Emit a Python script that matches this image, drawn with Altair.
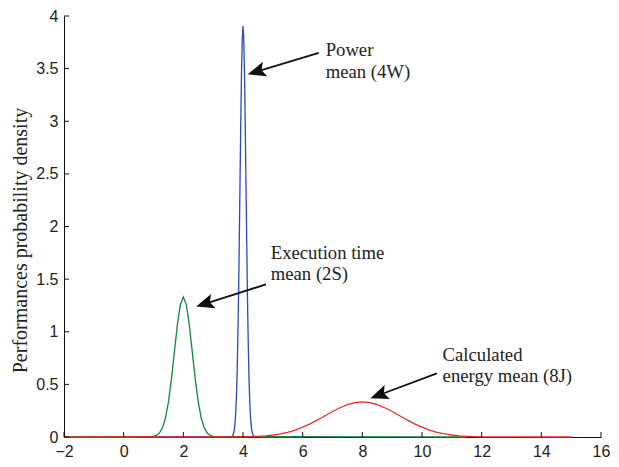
import math
import altair as alt
import pandas as pd

# ---- data ----
blue_x = [-2.0, 3.600, 3.625, 3.650, 3.675, 3.700, 3.725, 3.750, 3.775, 3.800, 3.825,
          3.850, 3.875, 3.900, 3.925, 3.950, 3.975, 4.000, 4.025, 4.050, 4.075, 4.100,
          4.125, 4.150, 4.175, 4.200, 4.225, 4.250, 4.275, 4.300, 4.325, 4.350, 4.375,
          4.400, 6.0]
blue_y = [0.0, 0.002, 0.005, 0.011, 0.025, 0.053, 0.105, 0.197, 0.347, 0.577, 0.903,
          1.330, 1.849, 2.420, 2.981, 3.460, 3.785, 3.905, 3.785, 3.460, 2.981, 2.420,
          1.849, 1.330, 0.903, 0.577, 0.347, 0.197, 0.105, 0.053, 0.025, 0.011, 0.005,
          0.002, 0.0]

green_x = [-2.0, 1.0, 1.1, 1.2, 1.3, 1.4, 1.5, 1.6, 1.7, 1.8, 1.9, 2.0,
           2.1, 2.2, 2.3, 2.4, 2.5, 2.6, 2.7, 2.8, 2.9, 3.0, 11.5]
green_y = [0.0, 0.005, 0.015, 0.038, 0.087, 0.180, 0.332, 0.547, 0.807, 1.065, 1.258, 1.330,
           1.258, 1.065, 0.807, 0.547, 0.332, 0.180, 0.087, 0.038, 0.015, 0.005, 0.0]

red_x = [-2.0, 4.0, 4.25, 4.5, 4.75, 5.0, 5.25, 5.5, 5.75, 6.0, 6.25, 6.5, 6.75, 7.0,
         7.25, 7.5, 7.75, 8.0, 8.25, 8.5, 8.75, 9.0, 9.25, 9.5, 9.75, 10.0, 10.25,
         10.5, 10.75, 11.0, 11.25, 11.5, 11.75, 12.0, 15.0]
red_y = [0.0, 0.002, 0.0037, 0.0066, 0.011, 0.019, 0.030, 0.045, 0.066, 0.093, 0.125,
         0.162, 0.202, 0.242, 0.278, 0.307, 0.326, 0.333, 0.326, 0.307, 0.278, 0.242,
         0.202, 0.162, 0.125, 0.093, 0.066, 0.045, 0.030, 0.019, 0.011, 0.0066, 0.0037,
         0.002, 0.0]

x_ticks = [-2, 0, 2, 4, 6, 8, 10, 12, 14, 16]
y_ticks = [0, 0.5, 1, 1.5, 2, 2.5, 3, 3.5, 4]

arrow_x1 = [6.54, 4.77, 10.50]
arrow_y1 = [3.650, 1.450, 0.604]
arrow_x2 = [4.16, 2.43, 8.27]
arrow_y2 = [3.446, 1.239, 0.368]

label_lines = ["Power", "mean (4W)", "Execution time", "mean (2S)",
               "Calculated", "energy mean (8J)"]
label_x = [6.77, 6.77, 4.93, 4.93, 10.69, 10.69]
label_y = [3.623, 3.415, 1.695, 1.491, 0.726, 0.519]

# ---- layout ----
W, H = 537, 421
XMIN, XMAX, YMIN, YMAX = -2, 16, 0, 4
PX_X = W / (XMAX - XMIN)
PX_Y = H / (YMAX - YMIN)

xs = alt.Scale(domain=[XMIN, XMAX], nice=False, zero=False)
ys = alt.Scale(domain=[YMIN, YMAX], nice=False, zero=False)

BLUE, GREEN, RED = "#2a48c0", "#12883a", "#f02a2a"

def series(xv, yv):
    return pd.DataFrame({"x": xv, "y": yv})

def line_layer(df, color, with_axes=False):
    if with_axes:
        ex = alt.X("x:Q", scale=xs, axis=alt.Axis(
            values=x_ticks, format="d", ticks=False, tickSize=0, grid=False,
            labelPadding=6, labelFlush=False, title=None, zindex=0))
        ey = alt.Y("y:Q", scale=ys, axis=alt.Axis(
            values=y_ticks, format=".1~f", ticks=False, tickSize=0, grid=False,
            labelPadding=6, labelFlush=False, title="Performances probability density",
            titleAngle=270, titleAlign="center", titleBaseline="alphabetic",
            titleX=-38, titleY=224, zindex=0))
    else:
        ex = alt.X("x:Q", scale=xs)
        ey = alt.Y("y:Q", scale=ys)
    return alt.Chart(df).mark_line(color=color, strokeWidth=1.3).encode(x=ex, y=ey)

blue = line_layer(series(blue_x, blue_y), BLUE, with_axes=True)
green = line_layer(series(green_x, green_y), GREEN)
red = line_layer(series(red_x, red_y), RED)

# inward ticks
xt = alt.Chart(pd.DataFrame({"x": x_ticks})).mark_rule(color="#111", strokeWidth=1).encode(
    x=alt.X("x:Q", scale=xs), y=alt.value(H), y2=alt.value(H - 5))
yt = alt.Chart(pd.DataFrame({"y": y_ticks})).mark_rule(color="#111", strokeWidth=1).encode(
    y=alt.Y("y:Q", scale=ys), x=alt.value(0), x2=alt.value(5))

# arrows
rows = []
for x1, y1, x2, y2 in zip(arrow_x1, arrow_y1, arrow_x2, arrow_y2):
    dx = (x2 - x1) * PX_X
    dy = -(y2 - y1) * PX_Y
    L = math.hypot(dx, dy)
    ang = math.degrees(math.atan2(dx, -dy)) % 360
    back = 10.0 / L
    ex_ = x2 - (x2 - x1) * back
    ey_ = y2 - (y2 - y1) * back
    rows.append({"x1": x1, "y1": y1, "xe": ex_, "ye": ey_, "x2": x2, "y2": y2, "ang": ang})
adf = pd.DataFrame(rows)

shafts = alt.Chart(adf).mark_rule(color="#111", strokeWidth=1.8).encode(
    x=alt.X("x1:Q", scale=xs), y=alt.Y("y1:Q", scale=ys),
    x2="xe:Q", y2="ye:Q")
heads = alt.Chart(adf).mark_point(
    shape="M0,0 L-0.42,1 L0,0.8 L0.42,1 Z", filled=True, size=1296,
    color="#111", opacity=1, strokeWidth=0).encode(
    x=alt.X("x2:Q", scale=xs), y=alt.Y("y2:Q", scale=ys),
    angle=alt.Angle("ang:Q", scale=None))

texts = alt.Chart(pd.DataFrame({"x": label_x, "y": label_y, "t": label_lines})).mark_text(
    align="left", baseline="alphabetic", font="Liberation Serif", fontSize=18.7,
    color="#222").encode(x=alt.X("x:Q", scale=xs), y=alt.Y("y:Q", scale=ys), text="t:N")

chart = alt.layer(blue, green, red, xt, yt, shafts, heads, texts).properties(
    width=W, height=H,
    autosize=alt.AutoSizeParams(type="none"),
    padding={"left": 56, "top": 8, "right": 10, "bottom": 22},
    background="white",
).configure_view(strokeWidth=0).configure_axis(
    domainColor="#111", domainWidth=1,
    labelFont="Liberation Sans", labelFontSize=16, labelColor="#222",
    titleFont="Liberation Serif", titleFontSize=20, titleFontWeight="normal",
    titleColor="#222",
)

chart.save("out.html", embed_options={"renderer": "svg", "actions": False})
